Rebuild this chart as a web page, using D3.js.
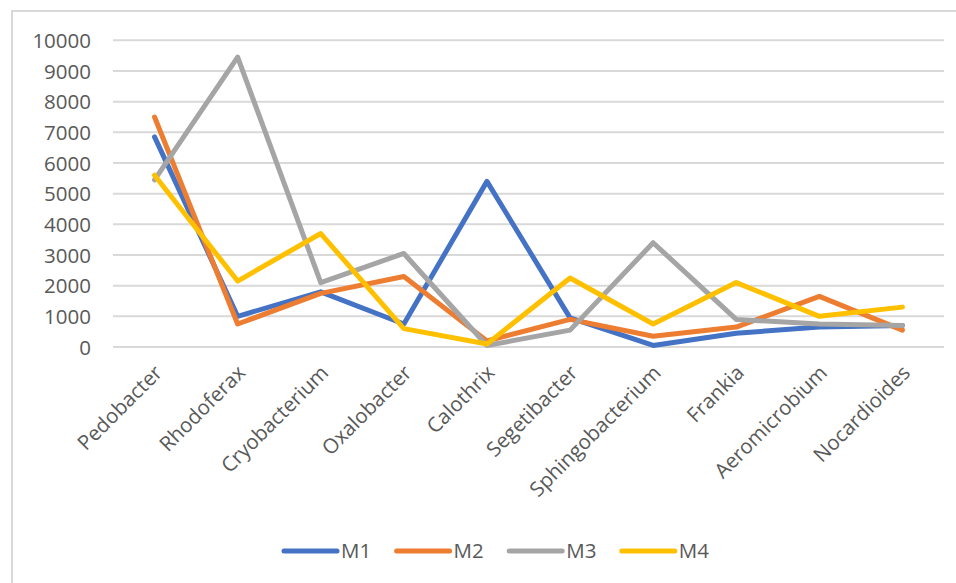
<!DOCTYPE html>
<html>
<head>
<meta charset="utf-8">
<script src="https://cdn.jsdelivr.net/npm/d3@7"></script>
<style>
  html, body { margin: 0; padding: 0; background: #fff; }
  svg { display: block; }
</style>
</head>
<body>
<svg id="chart" width="956" height="583"></svg>
<script>
// Genus abundance across four samples
const categories = ["Pedobacter", "Rhodoferax", "Cryobacterium", "Oxalobacter", "Calothrix",
  "Segetibacter", "Sphingobacterium", "Frankia", "Aeromicrobium", "Nocardioides"];
const m1 = [6850, 1000, 1800, 750, 5400, 950, 50, 450, 650, 700];
const m2 = [7500, 750, 1750, 2300, 200, 900, 350, 650, 1650, 550];
const m3 = [5450, 9450, 2100, 3050, 50, 550, 3400, 900, 750, 700];
const m4 = [5600, 2150, 3700, 600, 100, 2250, 750, 2100, 1000, 1300];
const seriesNames = ["M1", "M2", "M3", "M4"];
const seriesValues = [m1, m2, m3, m4];
const yTicks = [0, 1000, 2000, 3000, 4000, 5000, 6000, 7000, 8000, 9000, 10000];
const colors = ["#4472C4", "#ED7D31", "#A5A5A5", "#FFC000"];

const svg = d3.select("#chart");
const font = "'Open Sans', 'Noto Sans', sans-serif";
const textColor = "#595959";

// chart frame
svg.append("rect")
  .attr("x", 12).attr("y", 11)
  .attr("width", 960).attr("height", 600)
  .attr("fill", "#fff")
  .attr("stroke", "#D9D9D9").attr("stroke-width", 2);

const plot = { left: 113, right: 944, top: 40.3, bottom: 347 };

const x = d3.scaleBand().domain(categories).range([plot.left, plot.right]);
const y = d3.scaleLinear().domain([0, 10000]).range([plot.bottom, plot.top]);

// horizontal gridlines
svg.append("g")
  .selectAll("line")
  .data(yTicks)
  .join("line")
  .attr("x1", plot.left).attr("x2", plot.right)
  .attr("y1", d => y(d)).attr("y2", d => y(d))
  .attr("stroke", "#D9D9D9").attr("stroke-width", 2);

// y axis labels
const yAxis = d3.axisLeft(y).tickValues(yTicks).tickSize(0).tickPadding(0).tickFormat(d3.format("d"));
const gy = svg.append("g").attr("transform", "translate(91,0)").call(yAxis);
gy.select(".domain").remove();
gy.selectAll("text")
  .attr("fill", textColor)
  .attr("font-family", font)
  .attr("font-size", 20.5)
  .attr("dy", "0.35em");

// x axis labels, rotated
const xAxis = d3.axisBottom(x).tickSize(0).tickPadding(0);
const gx = svg.append("g").attr("transform", `translate(0,${plot.bottom})`).call(xAxis);
gx.select(".domain").remove();
gx.selectAll("text")
  .attr("fill", textColor)
  .attr("font-family", font)
  .attr("font-size", 20.5)
  .attr("text-anchor", "end")
  .attr("dy", 0)
  .attr("transform", "translate(9,27) rotate(-45)");

// series lines
const line = d3.line()
  .x((d, i) => x(categories[i]) + x.bandwidth() / 2)
  .y(d => y(d));

svg.append("g")
  .selectAll("path")
  .data(seriesValues)
  .join("path")
  .attr("d", d => line(d))
  .attr("fill", "none")
  .attr("stroke", (d, i) => colors[i])
  .attr("stroke-width", 5)
  .attr("stroke-linejoin", "round")
  .attr("stroke-linecap", "round");

// legend
const legend = svg.append("g").attr("transform", "translate(282,551)");
const item = legend.selectAll("g")
  .data(seriesNames)
  .join("g")
  .attr("transform", (d, i) => `translate(${i * 112.6},0)`);
item.append("line")
  .attr("x1", 2).attr("x2", 55)
  .attr("y1", 0).attr("y2", 0)
  .attr("stroke", (d, i) => colors[i])
  .attr("stroke-width", 5)
  .attr("stroke-linecap", "round");
item.append("text")
  .attr("x", 59).attr("y", 0)
  .attr("dy", "0.35em")
  .attr("fill", textColor)
  .attr("font-family", font)
  .attr("font-size", 20.5)
  .text(d => d);
</script>
</body>
</html>
